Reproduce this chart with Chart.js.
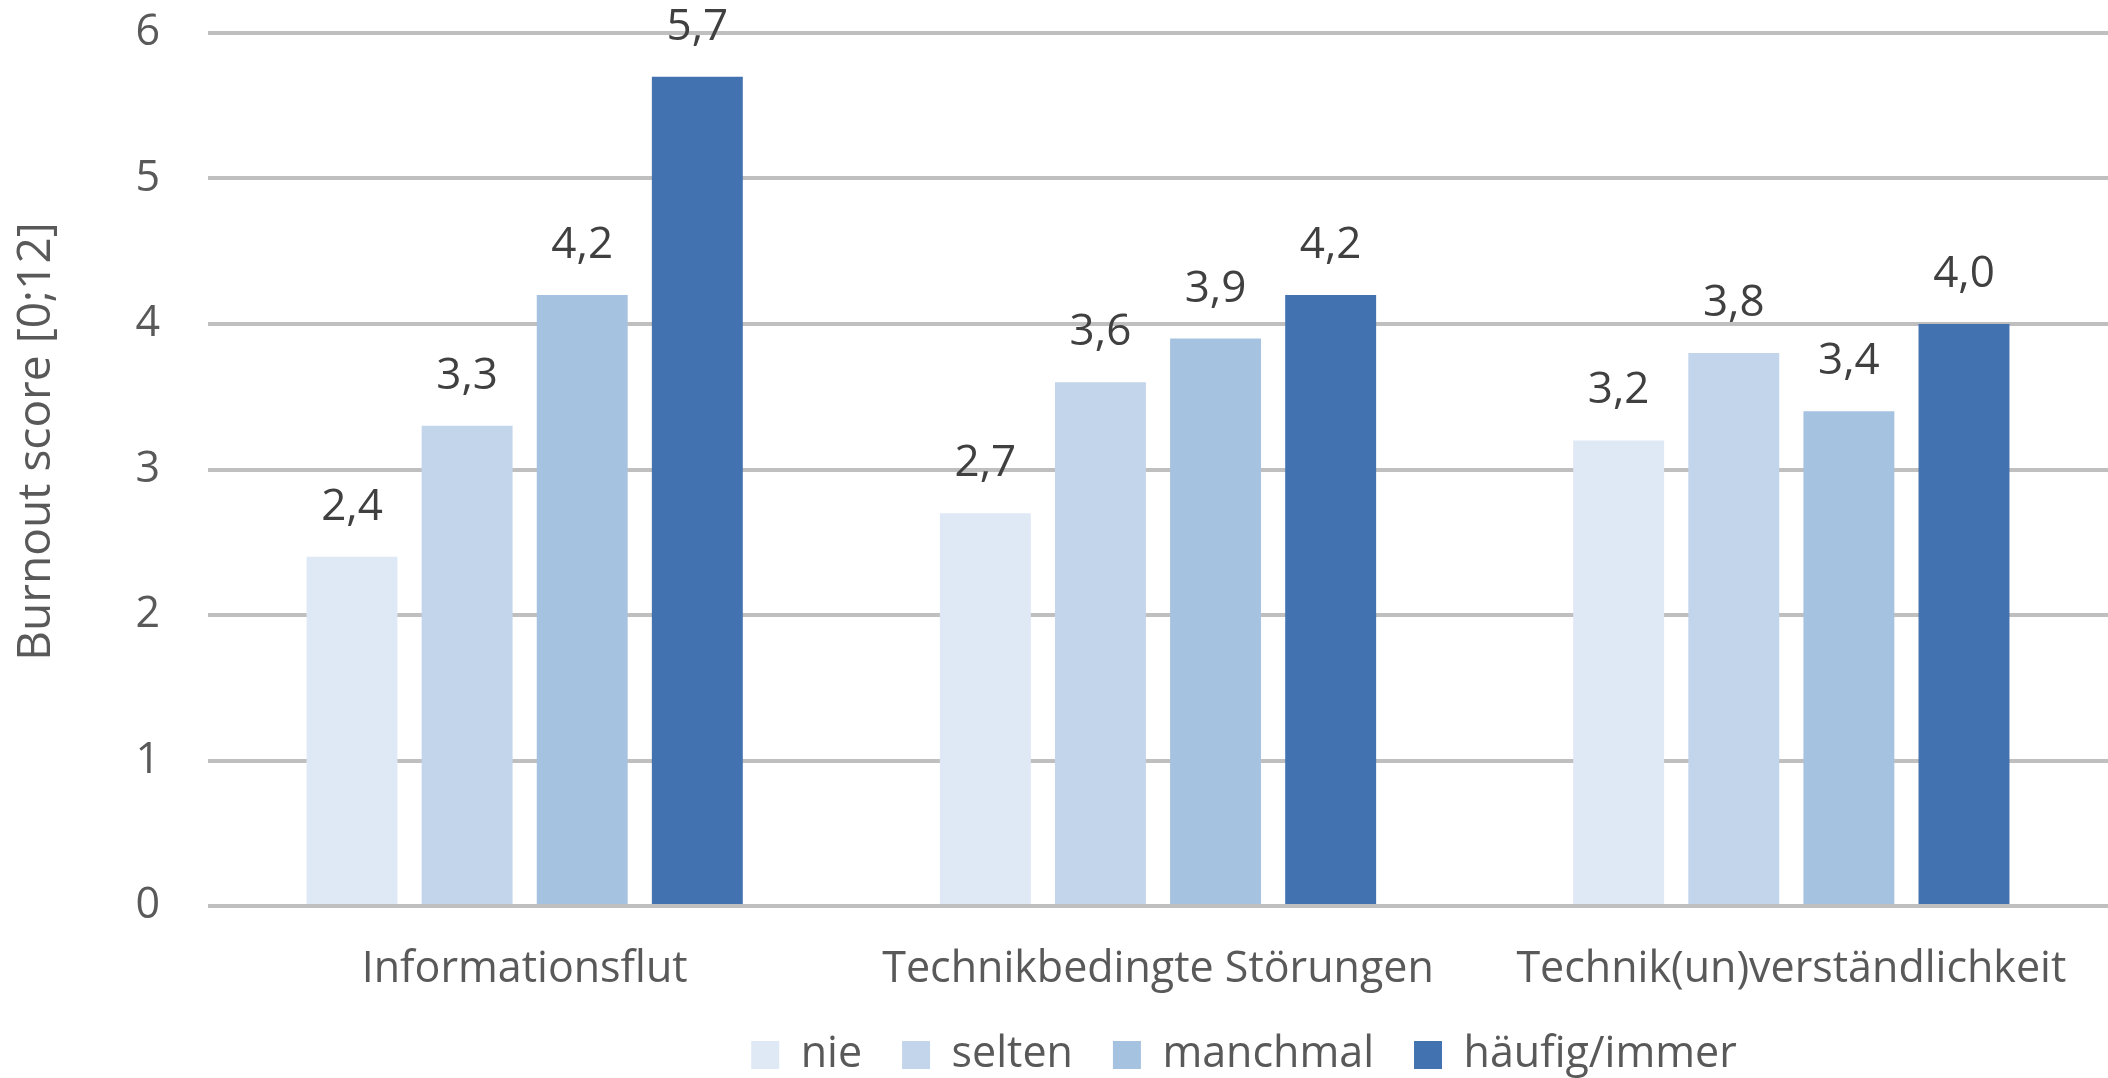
<!DOCTYPE html>
<html>
<head>
<meta charset="utf-8">
<script src="https://cdn.jsdelivr.net/npm/chart.js@4/dist/chart.umd.min.js"></script>
<style>
  body { margin: 0; background: #fff; }
</style>
</head>
<body>
<canvas id="burnout" width="2108" height="1078"></canvas>
<script>
const categories = ['Informationsflut', 'Technikbedingte Störungen', 'Technik(un)verständlichkeit'];
const nie = [2.4, 2.7, 3.2];
const selten = [3.3, 3.6, 3.8];
const manchmal = [4.2, 3.9, 3.4];
const haeufig = [5.7, 4.2, 4.0];
const yTicks = [0, 1, 2, 3, 4, 5, 6];
const yTitle = 'Burnout score [0;12]';

const FONT = "'Open Sans', sans-serif";
const TEXT = '#595959';

// value labels above every bar, German decimal comma
const barLabels = {
  id: 'barLabels',
  afterDatasetsDraw(chart) {
    const ctx = chart.ctx;
    ctx.save();
    ctx.font = '44px ' + FONT;
    ctx.fillStyle = '#404040';
    ctx.textAlign = 'center';
    ctx.textBaseline = 'alphabetic';
    chart.data.datasets.forEach((ds, i) => {
      chart.getDatasetMeta(i).data.forEach((bar, j) => {
        const txt = ds.data[j].toFixed(1).replace('.', ',');
        ctx.fillText(txt, bar.x, bar.y - 37);
      });
    });
    ctx.restore();
  }
};

// rotated y title, sitting a bit above the middle of the plot
const axisTitle = {
  id: 'axisTitle',
  afterDraw(chart) {
    const { ctx, chartArea } = chart;
    ctx.save();
    ctx.translate(37, (chartArea.top + chartArea.bottom) / 2 - 28);
    ctx.rotate(-Math.PI / 2);
    ctx.font = '46px ' + FONT;
    ctx.fillStyle = TEXT;
    ctx.textAlign = 'center';
    ctx.textBaseline = 'middle';
    ctx.fillText(yTitle, 0, 0);
    ctx.restore();
  }
};

// legend sits under the right part of the plot
const legendSpot = {
  id: 'legendSpot',
  afterLayout(chart) {
    const lg = chart.legend;
    const pad = lg.options.labels.padding;
    const dx = 1244 - (lg.left + lg.right) / 2;
    const dy = 1055 - (lg.top + pad + 21.5);
    lg.left += dx; lg.right += dx;
    lg.top += dy; lg.bottom += dy;
  }
};

new Chart(document.getElementById('burnout'), {
  type: 'bar',
  data: {
    labels: categories,
    datasets: [
      { label: 'nie', data: nie, backgroundColor: '#DEE9F5' },
      { label: 'selten', data: selten, backgroundColor: '#C2D5EB' },
      { label: 'manchmal', data: manchmal, backgroundColor: '#A6C2E1' },
      { label: 'häufig/immer', data: haeufig, backgroundColor: '#4272B0' }
    ]
  },
  options: {
    responsive: false,
    animation: false,
    categoryPercentage: 0.727,
    barPercentage: 0.79,
    // the legend is moved afterwards, so let its slot hang below the canvas
    layout: { padding: { top: 33, right: -8, bottom: -64, left: 0 } },
    plugins: {
      tooltip: { enabled: false },
      legend: {
        position: 'bottom',
        labels: {
          font: { family: FONT, size: 43 },
          color: TEXT,
          boxWidth: 28,
          boxHeight: 28,
          padding: 40
        }
      }
    },
    scales: {
      x: {
        grid: { display: false },
        border: { display: false },
        ticks: {
          font: { family: FONT, size: 43 },
          color: TEXT,
          padding: 30,
          maxRotation: 0
        },
        afterFit(scale) {
          scale.height = 143;
          scale.paddingLeft = 0;
          scale.paddingRight = 0;
        }
      },
      y: {
        min: 0,
        max: 6,
        afterBuildTicks(scale) { scale.ticks = yTicks.map(v => ({ value: v })); },
        grid: { color: '#BFBFBF', lineWidth: 4, drawTicks: false },
        border: { display: false },
        ticks: {
          font: { family: FONT, size: 43 },
          color: TEXT,
          padding: 48
        },
        afterFit(scale) {
          scale.width = 208;
          scale.paddingTop = 0;
          scale.paddingBottom = 0;
        }
      }
    }
  },
  plugins: [barLabels, axisTitle, legendSpot]
});
</script>
</body>
</html>
